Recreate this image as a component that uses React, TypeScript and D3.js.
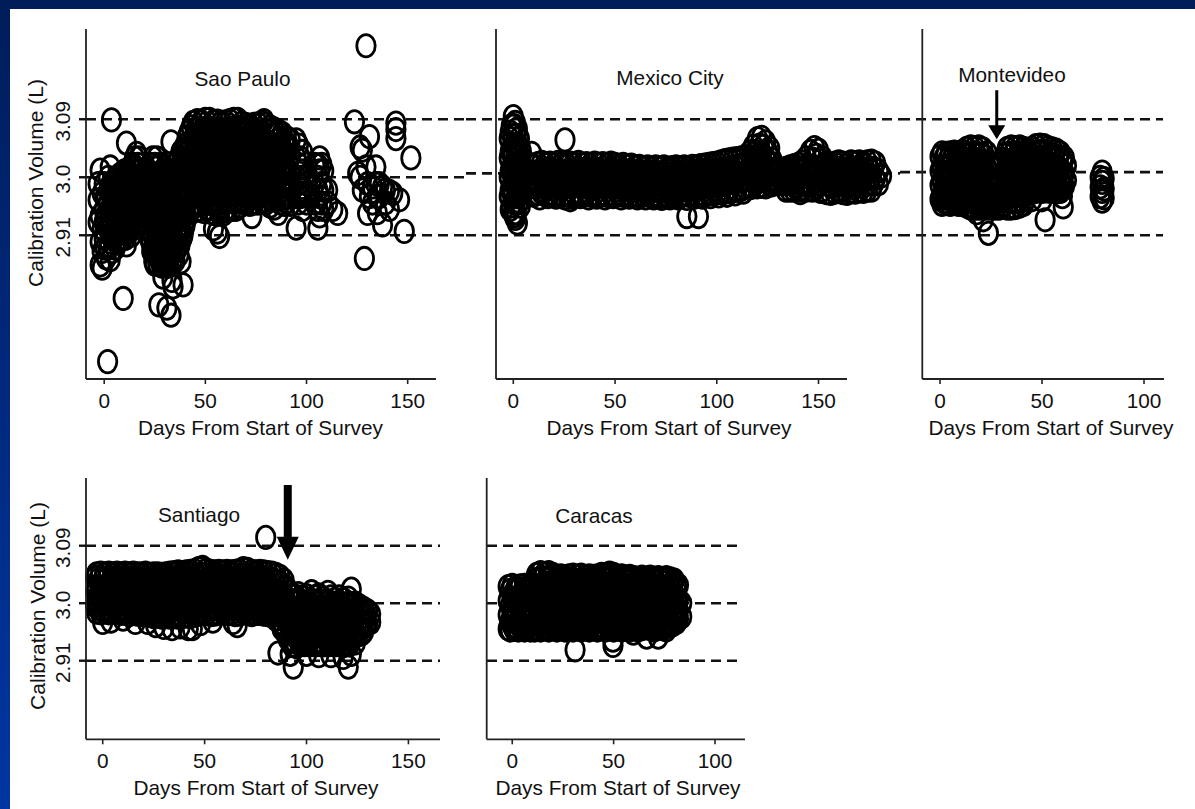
import React from 'react';
import * as d3 from 'd3';

type Row = number[]; // [day, value, value, ...]

// ---------- data (day, calibration volumes in L) ----------
const saoPaulo: Row[] = [
  [-3, 2.93, 2.965, 2.99],
  [-2, 3.011, 2.94, 2.9, 2.864],
  [-1, 2.975, 2.92, 2.885, 2.859],
  [0, 2.99, 2.95, 2.93, 2.905],
  [0.5, 2.97, 2.94, 2.915, 2.89],
  [1, 2.97, 2.935, 2.875],
  [1.7, 2.714],
  [2, 3.0, 2.96, 2.92, 2.89],
  [2.5, 2.985, 2.95, 2.935, 2.9],
  [3, 3.016, 2.975, 2.945, 2.91, 2.872],
  [3.6, 3.089],
  [4, 2.985, 2.955, 2.925, 2.885],
  [4.5, 2.975, 2.945, 2.915],
  [5, 2.995, 2.97, 2.94, 2.905],
  [5.5, 2.985, 2.955, 2.925, 2.89],
  [6, 3.0, 2.96, 2.93, 2.9],
  [6.5, 2.975, 2.945, 2.915],
  [7, 2.985, 2.955, 2.925],
  [7.5, 2.995, 2.965, 2.935, 2.905],
  [8, 3.005, 2.975, 2.945, 2.915],
  [8.5, 2.985, 2.955, 2.925],
  [9, 2.995, 2.965, 2.935, 2.905],
  [9.4, 2.812],
  [10, 3.01, 2.98, 2.95, 2.92],
  [10.5, 2.995, 2.965, 2.935, 2.905],
  [11, 3.053, 2.99, 2.96, 2.93, 2.895],
  [11.5, 3.01, 2.98, 2.95, 2.92],
  [12, 3.0, 2.975, 2.945, 2.915],
  [12.5, 2.99, 2.96, 2.93],
  [13, 3.015, 2.985, 2.955, 2.925],
  [13.5, 3.0, 2.97, 2.94, 2.91],
  [14, 3.02, 2.995, 2.965, 2.935],
  [14.5, 3.01, 2.98, 2.95, 2.92],
  [15, 3.03, 3.0, 2.97, 2.94],
  [15.5, 3.015, 2.985, 2.955],
  [16, 3.037, 3.01, 2.98, 2.95],
  [16.5, 3.02, 2.99, 2.96, 2.93],
  [17, 3.03, 3.0, 2.97, 2.945],
  [17.5, 3.0, 2.97, 2.94],
  [18, 3.01, 2.98, 2.955, 2.93],
  [19, 2.995, 2.965],
  [21, 2.99, 2.96, 2.93],
  [22, 3.01, 2.98, 2.95, 2.92],
  [22.5, 2.995, 2.965, 2.935, 2.905],
  [23, 3.02, 2.99, 2.96, 2.93, 2.9],
  [23.5, 3.005, 2.975, 2.945, 2.915, 2.885],
  [24, 3.03, 3.0, 2.97, 2.94, 2.91, 2.885],
  [24.5, 3.015, 2.985, 2.955, 2.925, 2.895, 2.87],
  [25, 3.02, 2.99, 2.96, 2.93, 2.9, 2.865],
  [25.5, 3.0, 2.97, 2.94, 2.91, 2.88],
  [26, 3.03, 3.0, 2.97, 2.94, 2.91, 2.88],
  [26.5, 3.015, 2.985, 2.955, 2.925, 2.895, 2.865],
  [27, 3.005, 2.975, 2.945, 2.915, 2.885, 2.802],
  [27.5, 2.99, 2.96, 2.93, 2.9, 2.87],
  [28, 3.02, 2.99, 2.96, 2.93, 2.9, 2.87],
  [28.5, 3.005, 2.975, 2.945, 2.915, 2.885, 2.862],
  [29, 3.0, 2.97, 2.94, 2.91, 2.88, 2.845],
  [29.5, 2.985, 2.955, 2.925, 2.895, 2.868],
  [30, 3.015, 2.985, 2.955, 2.925, 2.895, 2.865],
  [30.5, 3.0, 2.97, 2.94, 2.91, 2.88],
  [31, 2.995, 2.965, 2.935, 2.905, 2.875, 2.797],
  [31.5, 3.01, 2.98, 2.95, 2.92, 2.89, 2.862],
  [32, 3.02, 2.99, 2.96, 2.93, 2.9, 2.87],
  [32.5, 3.005, 2.975, 2.945, 2.915, 2.885],
  [33, 3.055, 3.0, 2.97, 2.94, 2.91, 2.88, 2.786],
  [33.5, 2.985, 2.955, 2.925, 2.895, 2.866, 2.84],
  [34, 3.01, 2.98, 2.95, 2.92, 2.89, 2.83],
  [34.5, 2.995, 2.965, 2.935, 2.905, 2.875],
  [35, 3.02, 2.99, 2.96, 2.93, 2.9, 2.87],
  [35.5, 3.005, 2.975, 2.945, 2.915, 2.885],
  [36, 3.01, 2.98, 2.95, 2.92, 2.89],
  [36.5, 3.025, 2.995, 2.965, 2.935, 2.905],
  [37, 3.03, 3.0, 2.97, 2.94, 2.91, 2.88],
  [37.5, 3.015, 2.985, 2.955, 2.925, 2.895],
  [38, 3.04, 3.01, 2.98, 2.95, 2.92, 2.869],
  [38.5, 3.025, 2.995, 2.965, 2.935, 2.905],
  [39, 3.03, 3.0, 2.97, 2.94, 2.91, 2.833],
  [39.5, 3.04, 3.01, 2.98, 2.95, 2.92],
  [40, 3.05, 3.025, 3.0, 2.975, 2.95, 2.925],
  [41, 3.062, 3.037, 3.012, 2.987, 2.962, 2.937],
  [42, 3.07, 3.045, 3.02, 2.995, 2.97, 2.945],
  [43, 3.078, 3.053, 3.028, 3.003, 2.978, 2.953],
  [44, 3.085, 3.06, 3.035, 3.01, 2.985, 2.96],
  [45, 3.073, 3.048, 3.023, 2.998, 2.973, 2.948],
  [46, 3.088, 3.062, 3.037, 3.012, 2.987, 2.96],
  [47, 3.076, 3.05, 3.025, 3.0, 2.975, 2.95],
  [48, 3.086, 3.061, 3.036, 3.011, 2.986, 2.958],
  [49, 3.074, 3.049, 3.024, 2.999, 2.974, 2.947],
  [50, 3.09, 3.063, 3.038, 3.013, 2.988, 2.962],
  [51, 3.077, 3.052, 3.027, 3.002, 2.977, 2.95],
  [52, 3.09, 3.064, 3.039, 3.014, 2.989, 2.96],
  [53, 3.075, 3.05, 3.025, 3.0, 2.975, 2.945],
  [54, 3.086, 3.061, 3.036, 3.011, 2.986, 2.958, 2.92],
  [55, 3.073, 3.048, 3.023, 2.998, 2.973, 2.943],
  [56, 3.087, 3.062, 3.037, 3.012, 2.987, 2.958, 2.915],
  [57, 3.074, 3.049, 3.024, 2.999, 2.974, 2.945, 2.908],
  [58, 3.085, 3.06, 3.035, 3.01, 2.985, 2.955],
  [59, 3.072, 3.047, 3.022, 2.997, 2.972, 2.943],
  [60, 3.086, 3.061, 3.036, 3.011, 2.986, 2.96],
  [61, 3.074, 3.049, 3.024, 2.999, 2.974, 2.948],
  [62, 3.088, 3.063, 3.038, 3.013, 2.988, 2.962],
  [63, 3.076, 3.051, 3.026, 3.001, 2.976, 2.95],
  [64, 3.09, 3.064, 3.039, 3.014, 2.989, 2.962],
  [65, 3.077, 3.052, 3.027, 3.002, 2.977, 2.95],
  [66, 3.09, 3.063, 3.038, 3.013, 2.988, 2.962],
  [67, 3.075, 3.05, 3.025, 3.0, 2.975, 2.955],
  [68, 3.084, 3.059, 3.034, 3.009, 2.984, 2.962],
  [69, 3.072, 3.047, 3.022, 2.997, 2.972],
  [70, 3.082, 3.057, 3.032, 3.007, 2.982, 2.96],
  [71, 3.07, 3.045, 3.02, 2.995, 2.97],
  [72, 3.08, 3.055, 3.03, 3.005, 2.98, 2.958],
  [73, 3.068, 3.043, 3.018, 2.993, 2.968, 2.939],
  [74, 3.082, 3.057, 3.032, 3.007, 2.982, 2.96],
  [75, 3.07, 3.045, 3.02, 2.995, 2.97],
  [76, 3.083, 3.058, 3.033, 3.008, 2.983, 2.96],
  [77, 3.071, 3.046, 3.021, 2.996, 2.971],
  [78, 3.085, 3.06, 3.035, 3.01, 2.985, 2.962],
  [79, 3.088, 3.048, 3.023, 2.998, 2.973],
  [80, 3.082, 3.057, 3.032, 3.007, 2.982, 2.96],
  [81, 3.07, 3.045, 3.02, 2.995, 2.97],
  [82, 3.078, 3.053, 3.028, 3.003, 2.978, 2.955],
  [83, 3.066, 3.041, 3.016, 2.991, 2.966],
  [84, 3.075, 3.05, 3.025, 3.0, 2.975, 2.952],
  [85, 3.068, 3.043, 3.018, 2.993, 2.968],
  [86, 3.072, 3.047, 3.022, 2.997, 2.972, 2.944],
  [87, 3.06, 3.035, 3.01, 2.985, 2.96],
  [88, 3.068, 3.043, 3.018, 2.993, 2.968],
  [89, 3.055, 3.03, 3.005, 2.98, 2.958],
  [90, 3.062, 3.037, 3.012, 2.987, 2.962],
  [91, 3.05, 3.025, 3.0, 2.975],
  [92, 3.058, 3.033, 3.008, 2.983, 2.958],
  [94.9, 3.058, 3.03, 3.0, 2.97, 2.921],
  [96, 3.05, 3.02, 2.99, 2.96],
  [97, 3.03, 3.0, 2.97],
  [98, 3.04, 3.01, 2.98, 2.95],
  [100, 3.02, 2.99, 2.96],
  [101, 3.0, 2.97],
  [104, 3.02, 2.99, 2.96],
  [105.6, 3.019, 3.0, 2.98, 2.95, 2.921],
  [106.5, 3.03, 3.01, 2.97, 2.94],
  [107.5, 3.02, 2.99, 2.96],
  [108.5, 3.01, 2.98, 2.95],
  [110.5, 2.98, 2.96],
  [113, 2.95],
  [115.4, 2.944],
  [123.7, 3.086],
  [125.3, 3.006],
  [126.5, 3.047, 3.0],
  [127.6, 3.042, 2.98],
  [128.6, 2.874],
  [129.4, 3.204, 3.016],
  [130.2, 2.944, 2.99],
  [131.1, 3.063, 2.97],
  [132.6, 2.985, 2.96],
  [134.3, 3.016, 2.99],
  [135, 2.945, 2.97],
  [136, 2.97, 2.99],
  [137.6, 2.985, 2.926],
  [139, 2.96, 2.98],
  [141, 2.978, 2.95],
  [142.6, 2.975],
  [144.2, 3.084, 3.074, 3.06],
  [146, 2.965],
  [148.3, 2.916],
  [151.6, 3.03],
];

const mexicoCity: Row[] = [
  [-2, 3.06, 3.03, 3.0, 2.97],
  [-1.5, 3.07, 3.04, 3.01, 2.98, 2.95],
  [-1, 3.08, 3.045, 3.015, 2.985, 2.955],
  [0, 3.094, 3.065, 3.035, 3.005, 2.975, 2.944],
  [0.5, 3.08, 3.05, 3.02, 2.99, 2.96, 2.94],
  [1, 3.085, 3.05, 3.02, 2.99, 2.96, 2.936],
  [1.5, 3.065, 3.035, 3.0, 2.97, 2.945],
  [2, 3.075, 3.04, 3.008, 2.978, 2.929],
  [2.5, 3.05, 3.02, 2.99, 2.96],
  [3, 3.06, 3.025, 2.995, 2.962],
  [3.5, 3.045, 3.015, 2.985, 2.955],
  [4, 3.04, 3.005, 2.975],
  [6, 3.012, 2.99],
  [8, 3.02, 2.985],
  [9, 3.037],
  [10, 3.018, 2.994, 2.972],
  [11, 3.008, 2.985],
  [12, 3.021, 2.997, 2.975],
  [13, 3.01, 2.986, 2.968],
  [14, 3.023, 2.999, 2.976],
  [15, 3.011, 2.987],
  [16, 3.02, 2.996, 2.973],
  [17, 3.009, 2.984, 2.97],
  [18, 3.022, 2.998, 2.975],
  [19, 3.012, 2.988],
  [20, 3.019, 2.995, 2.972],
  [21, 3.008, 2.984, 2.969],
  [22, 3.023, 2.999, 2.976],
  [23, 3.01, 2.987],
  [24, 3.021, 2.996, 2.973],
  [25.4, 3.058, 3.009, 2.985, 2.968],
  [26, 3.02, 2.997, 2.975],
  [27, 3.011, 2.986],
  [28, 3.022, 2.998, 2.972, 2.965],
  [29, 3.009, 2.985, 2.969],
  [30, 3.019, 2.995, 2.975],
  [31, 3.012, 2.988],
  [32, 3.023, 2.998, 2.974],
  [33, 3.01, 2.986, 2.97],
  [34, 3.02, 2.996, 2.973],
  [35, 3.008, 2.985],
  [36, 3.021, 2.997, 2.976],
  [37, 3.011, 2.987, 2.968],
  [38, 3.019, 2.994, 2.972],
  [39, 3.009, 2.985],
  [40, 3.022, 2.998, 2.975],
  [41, 3.012, 2.988, 2.969],
  [42, 3.02, 2.996, 2.973],
  [43, 3.01, 2.986],
  [44, 3.021, 2.997, 2.975],
  [45, 3.009, 2.985, 2.968],
  [46, 3.019, 2.995, 2.972],
  [47, 3.011, 2.987],
  [48, 3.022, 2.998, 2.974],
  [49, 3.008, 2.984, 2.97],
  [50, 3.02, 2.996, 2.973],
  [51, 3.01, 2.986],
  [52, 3.018, 2.994, 2.975],
  [53, 3.009, 2.985, 2.968],
  [54, 3.02, 2.996, 2.972],
  [55, 3.008, 2.984],
  [56, 3.017, 2.993, 2.974],
  [57, 3.007, 2.983, 2.969],
  [58, 3.019, 2.995, 2.972],
  [59, 3.009, 2.985],
  [60, 3.016, 2.992, 2.973],
  [61, 3.006, 2.982, 2.968],
  [62, 3.017, 2.993, 2.971],
  [63, 3.007, 2.984],
  [64, 3.015, 2.991, 2.972],
  [65, 3.005, 2.981, 2.968],
  [66, 3.016, 2.992, 2.974],
  [67, 3.006, 2.983],
  [68, 3.014, 2.99, 2.971],
  [69, 3.004, 2.98, 2.968],
  [70, 3.016, 2.992, 2.973],
  [71, 3.006, 2.982],
  [72, 3.015, 2.991, 2.97],
  [73, 3.005, 2.981, 2.967],
  [74, 3.016, 2.992, 2.973],
  [75, 3.006, 2.983],
  [76, 3.014, 2.99, 2.971],
  [77, 3.004, 2.98, 2.968],
  [78, 3.015, 2.991, 2.972],
  [79, 3.006, 2.982],
  [80, 3.016, 2.992, 2.974],
  [81, 3.005, 2.981, 2.968],
  [82, 3.015, 2.99, 2.971],
  [83, 3.006, 2.983],
  [84, 3.016, 2.992, 2.973],
  [85.3, 3.005, 2.981, 2.967, 2.939],
  [86, 3.015, 2.991, 2.972],
  [87, 3.006, 2.982],
  [88, 3.017, 2.993, 2.974],
  [89, 3.007, 2.983, 2.969],
  [90, 3.016, 2.992, 2.972],
  [91, 3.008, 2.984, 2.939],
  [92, 3.018, 2.994, 2.974],
  [93, 3.008, 2.984, 2.969],
  [94, 3.019, 2.995, 2.973],
  [95, 3.009, 2.985],
  [96, 3.02, 2.996, 2.975],
  [97, 3.01, 2.986, 2.97],
  [98, 3.021, 2.997, 2.974],
  [99, 3.011, 2.987],
  [100, 3.022, 2.998, 2.976],
  [101, 3.012, 2.988, 2.971],
  [102, 3.024, 3.0, 2.976],
  [103, 3.013, 2.989],
  [104, 3.026, 3.001, 2.977],
  [105, 3.014, 2.99, 2.972],
  [106, 3.027, 3.003, 2.978],
  [107, 3.016, 2.992],
  [108, 3.028, 3.004, 2.979],
  [109, 3.017, 2.993, 2.974],
  [110, 3.029, 3.005, 2.98],
  [111, 3.018, 2.994],
  [112, 3.03, 3.006, 2.981],
  [113, 3.02, 2.996, 2.977],
  [114, 3.032, 3.008, 2.984],
  [115, 3.024, 2.998],
  [116, 3.038, 3.012, 2.988],
  [117, 3.03, 3.004, 2.984],
  [118, 3.048, 3.022, 2.996],
  [119, 3.04, 3.012, 2.99],
  [120, 3.06, 3.034, 3.008, 2.985],
  [121, 3.05, 3.024, 2.998],
  [122, 3.062, 3.036, 3.01, 2.986],
  [123, 3.048, 3.022, 2.996],
  [124, 3.055, 3.03, 3.004, 2.985],
  [125, 3.04, 3.014, 2.992],
  [126, 3.045, 3.02, 2.996],
  [127, 3.028, 3.004, 2.988],
  [128, 3.02, 2.998],
  [129, 3.012, 2.992],
  [130, 3.014, 2.994],
  [131, 3.008, 2.99],
  [132, 3.012, 2.994],
  [133, 3.006, 2.99],
  [134, 3.014, 2.996, 2.98],
  [135, 3.008, 2.99],
  [136, 3.016, 2.996, 2.98],
  [137, 3.01, 2.99],
  [138, 3.018, 2.998, 2.98],
  [139, 3.012, 2.992],
  [140, 3.02, 3.0, 2.98],
  [141, 3.012, 2.99, 2.976],
  [142, 3.024, 3.0, 2.98],
  [143, 3.014, 2.992],
  [144, 3.03, 3.004, 2.98],
  [145, 3.018, 2.994],
  [146, 3.04, 3.012, 2.988],
  [147, 3.028, 3.002, 2.98],
  [148, 3.046, 3.016, 2.992],
  [149, 3.034, 3.008, 2.984],
  [150, 3.042, 3.014, 2.99],
  [151, 3.026, 3.0, 2.978],
  [152, 3.03, 3.004, 2.98],
  [153, 3.018, 2.994],
  [154, 3.022, 2.998, 2.976],
  [155, 3.012, 2.988],
  [156, 3.02, 2.996, 2.975],
  [157, 3.01, 2.986],
  [158, 3.022, 2.998, 2.977],
  [159, 3.012, 2.988],
  [160, 3.024, 3.0, 2.978],
  [161, 3.014, 2.99],
  [162, 3.022, 2.998, 2.976],
  [163, 3.012, 2.988],
  [164, 3.02, 2.996, 2.975],
  [165, 3.01, 2.986],
  [166, 3.024, 3.0, 2.978],
  [167, 3.014, 2.99],
  [168, 3.022, 2.998, 2.977],
  [169, 3.012, 2.988],
  [170, 3.024, 3.0, 2.979],
  [171, 3.014, 2.99],
  [172, 3.022, 2.998, 2.978],
  [173, 3.012, 2.988],
  [174, 3.024, 3.0, 2.98],
  [175, 3.014, 2.99],
  [176, 3.025, 3.0, 2.98],
  [177, 3.014, 2.99],
  [178, 3.022, 2.998],
  [179.5, 3.01, 2.99],
  [181, 3.002],
];

const montevideo: Row[] = [
  [0, 3.032, 3.01, 2.988, 2.966],
  [1, 3.038, 3.016, 2.994, 2.972, 2.958],
  [2, 3.03, 3.006, 2.984, 2.962],
  [3, 3.037, 3.014, 2.992, 2.97, 2.96],
  [4, 3.028, 3.004, 2.981, 2.961],
  [5, 3.038, 3.016, 2.993, 2.971, 2.958],
  [6, 3.029, 3.005, 2.982, 2.963],
  [7, 3.039, 3.015, 2.991, 2.97, 2.96],
  [8, 3.03, 3.006, 2.983, 2.962],
  [9, 3.038, 3.016, 2.994, 2.972, 2.958],
  [10, 3.031, 3.007, 2.984, 2.962],
  [11, 3.04, 3.017, 2.994, 2.971, 2.958],
  [12, 3.034, 3.009, 2.985, 2.962],
  [13, 3.045, 3.021, 2.997, 2.974, 2.955],
  [14, 3.036, 3.011, 2.987, 2.963],
  [15, 3.047, 3.023, 2.998, 2.974, 2.952],
  [16, 3.037, 3.012, 2.987, 2.963],
  [17, 3.046, 3.022, 2.997, 2.973, 2.952],
  [18, 3.035, 3.01, 2.986, 2.962, 2.945],
  [19, 3.047, 3.022, 2.997, 2.972, 2.952],
  [20, 3.036, 3.011, 2.986, 2.962],
  [21, 3.044, 3.02, 2.995, 2.97, 2.952],
  [21.2, 2.934],
  [22, 3.032, 3.008, 2.984, 2.96],
  [23, 3.038, 3.013, 2.99, 2.966, 2.952],
  [23.7, 2.913],
  [24, 3.022, 2.999, 2.976, 2.955],
  [25, 3.02, 2.996, 2.972, 2.952],
  [26, 3.016, 2.992, 2.968, 2.955],
  [27, 3.02, 2.996, 2.972, 2.952],
  [28, 3.014, 2.99, 2.966, 2.955],
  [29, 3.019, 2.995, 2.971, 2.952],
  [30, 3.022, 2.998, 2.974, 2.955],
  [31, 3.028, 3.004, 2.98, 2.956],
  [32, 3.036, 3.012, 2.988, 2.964],
  [33, 3.045, 3.02, 2.996, 2.972, 2.952],
  [34, 3.037, 3.012, 2.987, 2.963],
  [35, 3.047, 3.022, 2.997, 2.973, 2.952],
  [36, 3.036, 3.011, 2.986, 2.962],
  [37, 3.046, 3.021, 2.996, 2.972, 2.953],
  [38, 3.035, 3.01, 2.985, 2.962],
  [39, 3.047, 3.022, 2.997, 2.972, 2.955],
  [40, 3.036, 3.012, 2.987, 2.964],
  [41, 3.045, 3.02, 2.995, 2.971, 2.958],
  [42, 3.034, 3.01, 2.986, 2.966],
  [43, 3.043, 3.019, 2.995, 2.975],
  [44, 3.036, 3.012, 2.988, 2.978],
  [45, 3.045, 3.021, 2.997, 2.978, 2.965],
  [46, 3.038, 3.014, 2.99, 2.98],
  [47, 3.049, 3.025, 3.0, 2.978],
  [48, 3.04, 3.016, 2.992, 2.98],
  [49, 3.05, 3.026, 3.002, 2.98],
  [50, 3.041, 3.017, 2.993, 2.978, 2.965],
  [51, 3.049, 3.024, 3.0, 2.98],
  [51.5, 2.934],
  [52, 3.039, 3.015, 2.991, 2.979],
  [53, 3.046, 3.022, 2.998, 2.98],
  [54, 3.036, 3.012, 2.989, 2.978],
  [55, 3.044, 3.02, 2.996, 2.98],
  [56, 3.034, 3.01, 2.987, 2.978],
  [57, 3.042, 3.017, 2.993, 2.98],
  [58, 3.032, 3.008, 2.985, 2.978],
  [59, 3.038, 3.013, 2.99, 2.978],
  [60, 3.028, 3.005, 2.984, 2.97],
  [60.4, 2.954],
  [61, 3.03, 3.006, 2.986],
  [62, 3.018, 2.995],
  [78.5, 3.0, 2.985, 2.97],
  [79.5, 3.008, 2.992, 2.978, 2.963],
  [80.5, 2.998, 2.982, 2.968],
];

const santiago: Row[] = [
  [-3.5, 3.04, 3.018, 2.996],
  [-3, 3.046, 3.024, 3.002, 2.986],
  [-2, 3.037, 3.013, 2.992],
  [-1, 3.047, 3.025, 3.003, 2.985],
  [0, 3.036, 3.012, 2.99, 2.97],
  [1, 3.046, 3.023, 3.001, 2.986],
  [2, 3.038, 3.014, 2.993],
  [3, 3.047, 3.025, 3.003, 2.985],
  [4, 3.036, 3.012, 2.99, 2.972],
  [5, 3.046, 3.024, 3.002, 2.986],
  [6, 3.038, 3.015, 2.993],
  [7, 3.047, 3.025, 3.003, 2.985],
  [8, 3.037, 3.013, 2.991],
  [9, 3.046, 3.024, 3.001, 2.984],
  [10, 3.038, 3.014, 2.992, 2.975],
  [11, 3.047, 3.025, 3.003, 2.985],
  [12, 3.037, 3.013, 2.99],
  [13, 3.046, 3.023, 3.0, 2.982],
  [14, 3.038, 3.014, 2.992],
  [15, 3.047, 3.024, 3.002, 2.984],
  [16, 3.036, 3.012, 2.99, 2.97],
  [17, 3.046, 3.023, 3.0, 2.983],
  [18, 3.037, 3.013, 2.991],
  [19, 3.046, 3.023, 3.0, 2.982],
  [20, 3.036, 3.012, 2.989],
  [21, 3.047, 3.024, 3.001, 2.983],
  [22, 3.037, 3.013, 2.99, 2.97],
  [23, 3.045, 3.022, 2.999, 2.981],
  [24, 3.036, 3.012, 2.989],
  [25, 3.046, 3.022, 2.998, 2.979],
  [26, 3.035, 3.011, 2.987, 2.965],
  [27, 3.046, 3.022, 2.998, 2.98],
  [28, 3.037, 3.013, 2.989],
  [29, 3.045, 3.021, 2.997, 2.978],
  [30, 3.036, 3.012, 2.988, 2.962],
  [31, 3.046, 3.022, 2.998, 2.979],
  [32, 3.037, 3.013, 2.989],
  [33, 3.047, 3.023, 2.999, 2.978],
  [34, 3.038, 3.014, 2.99, 2.96],
  [35, 3.048, 3.024, 3.0, 2.979],
  [36, 3.039, 3.015, 2.991],
  [37, 3.049, 3.025, 3.001, 2.978],
  [38, 3.038, 3.014, 2.99, 2.963],
  [39, 3.048, 3.024, 3.0, 2.979],
  [40, 3.04, 3.016, 2.992],
  [41, 3.049, 3.025, 3.001, 2.98],
  [42, 3.039, 3.015, 2.991, 2.96],
  [43, 3.05, 3.026, 3.002, 2.979],
  [44, 3.04, 3.016, 2.992, 2.96],
  [45, 3.051, 3.027, 3.003, 2.981],
  [46, 3.042, 3.018, 2.994],
  [47, 3.054, 3.03, 3.006, 2.983],
  [48, 3.045, 3.02, 2.996, 2.968],
  [49, 3.056, 3.031, 3.007, 2.985],
  [50, 3.044, 3.02, 2.996],
  [51, 3.052, 3.028, 3.004, 2.984],
  [52, 3.04, 3.016, 2.993],
  [53, 3.05, 3.026, 3.002, 2.982],
  [54, 3.041, 3.017, 2.993, 2.972],
  [55, 3.049, 3.025, 3.001, 2.983],
  [56, 3.039, 3.015, 2.992],
  [57, 3.05, 3.026, 3.002, 2.984],
  [58, 3.04, 3.016, 2.993],
  [59, 3.049, 3.025, 3.002, 2.985],
  [60, 3.039, 3.015, 2.993],
  [61, 3.05, 3.026, 3.003, 2.984],
  [62, 3.04, 3.016, 2.994],
  [63, 3.049, 3.025, 3.002, 2.984],
  [64, 3.038, 3.014, 2.991, 2.97],
  [65, 3.05, 3.026, 3.002, 2.982],
  [66, 3.04, 3.016, 2.992, 2.965],
  [67, 3.051, 3.027, 3.003, 2.983],
  [68, 3.042, 3.018, 2.994],
  [69, 3.054, 3.03, 3.006, 2.985],
  [70, 3.045, 3.021, 2.997],
  [71, 3.053, 3.029, 3.005, 2.984],
  [72, 3.041, 3.017, 2.993],
  [73, 3.05, 3.026, 3.002, 2.982],
  [74, 3.04, 3.016, 2.992],
  [75, 3.049, 3.025, 3.001, 2.984],
  [76, 3.039, 3.015, 2.992],
  [77, 3.05, 3.026, 3.002, 2.984],
  [78, 3.04, 3.016, 2.993],
  [79, 3.049, 3.025, 3.001, 2.983],
  [80, 3.103, 3.039, 3.015, 2.991],
  [81, 3.048, 3.024, 3.0, 2.982],
  [82, 3.038, 3.014, 2.99],
  [83, 3.047, 3.023, 2.999, 2.98],
  [84, 3.036, 3.012, 2.988],
  [85, 3.045, 3.02, 2.996, 2.975],
  [86, 3.034, 3.01, 2.985, 2.922],
  [87, 3.042, 3.017, 2.992, 2.97],
  [88, 3.03, 3.005, 2.98, 2.96],
  [89, 3.036, 3.01, 2.985, 2.962],
  [90, 3.025, 3.0, 2.975, 2.952],
  [91, 3.018, 2.993, 2.968, 2.944],
  [92, 3.012, 2.988, 2.963, 2.94, 2.92],
  [93, 3.004, 2.98, 2.956, 2.934],
  [93.5, 2.9],
  [94, 3.012, 2.988, 2.964, 2.94],
  [95, 3.003, 2.978, 2.954, 2.932],
  [96, 3.015, 2.99, 2.966, 2.942],
  [97, 3.004, 2.98, 2.955, 2.935],
  [98, 3.01, 2.986, 2.962, 2.938],
  [99, 3.0, 2.976, 2.952, 2.935],
  [100, 3.012, 2.988, 2.964, 2.94, 2.92],
  [101, 3.002, 2.978, 2.954, 2.935],
  [102.5, 3.018, 2.994, 2.97, 2.945],
  [103, 3.004, 2.98, 2.956, 2.935],
  [104, 3.01, 2.986, 2.962, 2.938],
  [105, 3.0, 2.976, 2.952, 2.935],
  [106, 3.013, 2.989, 2.965, 2.941, 2.918],
  [107, 3.003, 2.979, 2.955, 2.935],
  [108, 3.008, 2.984, 2.96, 2.938],
  [109, 3.0, 2.976, 2.952, 2.935],
  [110.5, 3.017, 2.993, 2.969, 2.945],
  [111, 3.002, 2.978, 2.954, 2.935],
  [112, 3.01, 2.986, 2.962, 2.938, 2.918],
  [113, 3.0, 2.976, 2.952, 2.935],
  [114, 3.006, 2.982, 2.958, 2.938],
  [115, 2.998, 2.974, 2.95, 2.935],
  [116, 3.01, 2.986, 2.962, 2.938],
  [117, 3.0, 2.976, 2.952, 2.935],
  [118, 3.006, 2.982, 2.958, 2.935, 2.915],
  [119, 2.998, 2.974, 2.95, 2.935],
  [120.5, 3.008, 2.984, 2.96, 2.938, 2.9],
  [121, 3.0, 2.976, 2.952, 2.935],
  [122, 3.022, 2.996, 2.97, 2.945, 2.92],
  [123, 2.996, 2.972, 2.95],
  [124, 3.0, 2.978, 2.955, 2.938],
  [125, 2.992, 2.97, 2.95],
  [126, 2.996, 2.975, 2.955],
  [127, 2.988, 2.968, 2.952],
  [128, 2.992, 2.972, 2.955],
  [129, 2.985, 2.965],
  [130, 2.988, 2.968],
  [131.5, 2.983, 2.97],
];

const caracas: Row[] = [
  [-2, 3.026, 3.004, 2.982, 2.96],
  [-1, 3.02, 2.996, 2.972, 2.958],
  [0, 3.028, 3.008, 2.986, 2.965],
  [1, 3.018, 2.994, 2.975, 2.959],
  [2, 3.025, 3.002, 2.98, 2.962],
  [3, 3.021, 2.998, 2.97, 2.958],
  [4, 3.027, 3.006, 2.984, 2.963],
  [5, 3.016, 2.992, 2.976, 2.96],
  [6, 3.028, 3.004, 2.981, 2.958],
  [7, 3.022, 2.997, 2.971, 2.961],
  [8, 3.026, 3.009, 2.986, 2.964],
  [9, 3.019, 2.993, 2.974, 2.958],
  [10, 3.03, 3.005, 2.982, 2.96],
  [11, 3.036, 3.012, 2.99, 2.968, 2.958],
  [12, 3.045, 3.02, 2.997, 2.974, 2.96],
  [13, 3.038, 3.013, 2.988, 2.966],
  [14, 3.048, 3.024, 3.001, 2.978, 2.958],
  [15, 3.04, 3.016, 2.992, 2.969],
  [16, 3.046, 3.021, 2.996, 2.973, 2.96],
  [17, 3.037, 3.01, 2.985, 2.962],
  [18, 3.048, 3.025, 3.0, 2.976, 2.958],
  [19, 3.041, 3.015, 2.991, 2.967],
  [20, 3.045, 3.02, 2.995, 2.972, 2.96],
  [21, 3.036, 3.011, 2.987, 2.963],
  [22, 3.042, 3.018, 2.994, 2.97, 2.958],
  [23, 3.035, 3.009, 2.984, 2.962],
  [24, 3.043, 3.019, 2.996, 2.973, 2.96],
  [25, 3.037, 3.012, 2.988, 2.965],
  [26, 3.041, 3.016, 2.992, 2.968, 2.958],
  [27, 3.034, 3.01, 2.986, 2.962],
  [28, 3.043, 3.02, 2.997, 2.974, 2.96],
  [29, 3.036, 3.011, 2.985, 2.963],
  [30, 3.044, 3.019, 2.994, 2.97, 2.958],
  [31, 3.035, 3.012, 2.988, 2.964, 2.927],
  [32, 3.042, 3.017, 2.993, 2.97, 2.96],
  [33, 3.036, 3.01, 2.986, 2.962],
  [34, 3.044, 3.021, 2.997, 2.973, 2.958],
  [35, 3.037, 3.013, 2.989, 2.965],
  [36, 3.041, 3.016, 2.991, 2.968, 2.96],
  [37, 3.034, 3.009, 2.985, 2.962],
  [38, 3.043, 3.019, 2.995, 2.971, 2.958],
  [39, 3.036, 3.012, 2.987, 2.964],
  [40, 3.042, 3.017, 2.993, 2.969, 2.96],
  [41, 3.035, 3.01, 2.986, 2.962],
  [42, 3.043, 3.019, 2.996, 2.972, 2.958],
  [43, 3.037, 3.013, 2.988, 2.965],
  [44, 3.045, 3.02, 2.995, 2.971, 2.96],
  [45, 3.038, 3.012, 2.987, 2.963],
  [46, 3.044, 3.018, 2.994, 2.97, 2.958],
  [47, 3.039, 3.014, 2.989, 2.966],
  [48, 3.047, 3.022, 2.997, 2.973, 2.96],
  [49, 3.04, 3.015, 2.99, 2.965],
  [49.7, 2.942, 2.934],
  [50, 3.045, 3.02, 2.996, 2.972, 2.958],
  [51, 3.037, 3.012, 2.988, 2.964],
  [52, 3.042, 3.017, 2.993, 2.969, 2.96],
  [53, 3.035, 3.01, 2.986, 2.962],
  [54, 3.043, 3.019, 2.995, 2.971, 2.958],
  [55, 3.036, 3.011, 2.987, 2.964],
  [56, 3.041, 3.016, 2.992, 2.968, 2.96],
  [57, 3.034, 3.009, 2.985, 2.962],
  [58, 3.042, 3.018, 2.994, 2.97, 2.958],
  [59, 3.036, 3.012, 2.988, 2.965],
  [59.7, 2.953],
  [60, 3.04, 3.016, 2.992, 2.968, 2.96],
  [61, 3.033, 3.008, 2.984, 2.962],
  [62, 3.039, 3.015, 2.991, 2.967, 2.958],
  [63, 3.034, 3.01, 2.986, 2.963],
  [64, 3.041, 3.017, 2.993, 2.969, 2.96],
  [65, 3.035, 3.011, 2.987, 2.964],
  [66.3, 3.039, 3.014, 2.99, 2.967, 2.947],
  [67, 3.033, 3.009, 2.985, 2.962],
  [68, 3.041, 3.017, 2.993, 2.969, 2.96],
  [69, 3.036, 3.011, 2.986, 2.963],
  [70, 3.039, 3.014, 2.99, 2.966, 2.958],
  [71, 3.034, 3.01, 2.985, 2.962],
  [72, 3.04, 3.016, 2.992, 2.968, 2.947],
  [73, 3.035, 3.011, 2.987, 2.963],
  [74, 3.038, 3.014, 2.99, 2.966, 2.96],
  [75, 3.033, 3.008, 2.984, 2.962],
  [76, 3.04, 3.016, 2.992, 2.969, 2.958],
  [77, 3.034, 3.01, 2.986, 2.964],
  [78, 3.038, 3.013, 2.99, 2.968],
  [79, 3.032, 3.008, 2.985, 2.966],
  [80, 3.036, 3.012, 2.99, 2.972],
  [81, 3.03, 3.006, 2.984, 2.97],
  [82, 3.028, 3.006, 2.988, 2.975],
  [83.6, 3.0, 2.979],
];

// tick and reference values
const xTicks150 = [0, 50, 100, 150];
const xTicks100 = [0, 50, 100];
const yTickValues = [2.91, 3.0, 3.09];
const yTickLabels = ['2.91', '3.0', '3.09'];
const refSaoPaulo = [3.09, 3.0, 2.91];
const refMexicoCity = [3.09, 3.006, 2.91];
const refMontevideo = [3.09, 3.008, 2.91];
const refSantiago = [3.09, 3.0, 2.91];
const refCaracas = [3.09, 3.0, 2.91];

// arrows: [day, from value, to value]
const arrowMontevideo = [27.8, 3.135, 3.059];
const arrowSantiago = [90.8, 3.185, 3.068];

// ---------- layout ----------
const W = 1195;
const H = 809;
const FONT = '"Liberation Sans", Arial, Helvetica, sans-serif';

const topY = d3.scaleLinear().domain([2.687, 3.23]).range([379, 29]);
const botY = d3.scaleLinear().domain([2.787, 3.196]).range([739.3, 478]);

interface PanelSpec {
  name: string;
  rows: Row[];
  xDomain: [number, number];
  xRange: [number, number];
  y: d3.ScaleLinear<number, number>;
  refs: number[];
  refSpan: [number, number];
  xTicks: number[];
  yLabels: boolean;
  title: [number, number];
  xTitleX: number;
  yTitle?: [number, number];
}

const panels: PanelSpec[] = [
  {
    name: 'Sao Paulo', rows: saoPaulo, xDomain: [-9, 164], xRange: [86, 436], y: topY,
    refs: refSaoPaulo, refSpan: [86, 466], xTicks: xTicks150, yLabels: true,
    title: [242.5, 86], xTitleX: 260.5, yTitle: [43, 183],
  },
  {
    name: 'Mexico City', rows: mexicoCity, xDomain: [-8.5, 164], xRange: [496, 847], y: topY,
    refs: refMexicoCity, refSpan: [466, 900], xTicks: xTicks150, yLabels: false,
    title: [670, 85], xTitleX: 669,
  },
  {
    name: 'Montevideo', rows: montevideo, xDomain: [-8.7, 109.8], xRange: [922.3, 1164], y: topY,
    refs: refMontevideo, refSpan: [900, 1163], xTicks: xTicks100, yLabels: false,
    title: [1012, 82], xTitleX: 1051,
  },
  {
    name: 'Santiago', rows: santiago, xDomain: [-8.2, 165.5], xRange: [86, 440], y: botY,
    refs: refSantiago, refSpan: [86, 440], xTicks: xTicks150, yLabels: true,
    title: [199, 522], xTitleX: 256, yTitle: [45, 606],
  },
  {
    name: 'Caracas', rows: caracas, xDomain: [-12.6, 114.8], xRange: [486.7, 745], y: botY,
    refs: refCaracas, refSpan: [487, 738], xTicks: xTicks100, yLabels: false,
    title: [594, 523], xTitleX: 618,
  },
];

function flatten(rows: Row[]): [number, number][] {
  const out: [number, number][] = [];
  rows.forEach((r) => {
    for (let i = 1; i < r.length; i++) out.push([r[0], r[i]]);
  });
  return out;
}

function Panel({ p }: { p: PanelSpec }) {
  const x = d3.scaleLinear().domain(p.xDomain).range(p.xRange);
  const y = p.y;
  const [y0, y1] = y.range() as [number, number]; // bottom, top
  const axisX = p.xRange[0];
  const pts = flatten(p.rows);
  const fs = 20.8;
  return (
    <g>
      {p.refs.map((v, i) => (
        <line key={'r' + i} x1={p.refSpan[0]} x2={p.refSpan[1]} y1={y(v)} y2={y(v)}
          stroke="#111" strokeWidth={2.6} strokeDasharray="10 6" />
      ))}
      {pts.map(([d, v], i) => (
        <ellipse key={i} cx={x(d)} cy={y(v)} rx={9.2} ry={11.2}
          fill="none" stroke="#000" strokeWidth={2.8} />
      ))}
      <line x1={axisX} x2={axisX} y1={y1} y2={y0} stroke="#222" strokeWidth={1.8} />
      <line x1={axisX} x2={p.xRange[1]} y1={y0} y2={y0} stroke="#222" strokeWidth={1.8} />
      {p.xTicks.map((t) => (
        <g key={'xt' + t}>
          <line x1={x(t)} x2={x(t)} y1={y0} y2={y0 + 5} stroke="#222" strokeWidth={1.6} />
          <text x={x(t)} y={y0 + 28.5} textAnchor="middle" fontSize={fs} fontFamily={FONT} fill="#111">{t}</text>
        </g>
      ))}
      <text x={p.xTitleX} y={y0 + 55.5} textAnchor="middle" fontSize={fs} fontFamily={FONT} fill="#111">
        Days From Start of Survey
      </text>
      {p.yLabels && yTickValues.map((v, i) => (
        <g key={'yt' + i}>
          <line x1={axisX - 7} x2={axisX} y1={y(v)} y2={y(v)} stroke="#111" strokeWidth={2.4} />
          <text transform={`translate(${axisX - 16},${y(v) + 2}) rotate(-90)`} textAnchor="middle"
            fontSize={fs} fontFamily={FONT} fill="#111">{yTickLabels[i]}</text>
        </g>
      ))}
      {p.yTitle && (
        <text transform={`translate(${p.yTitle[0]},${p.yTitle[1]}) rotate(-90)`} textAnchor="middle"
          fontSize={21} fontFamily={FONT} fill="#111">Calibration Volume (L)</text>
      )}
      <text x={p.title[0]} y={p.title[1]} textAnchor="middle" fontSize={fs} fontFamily={FONT} fill="#111">
        {p.name}
      </text>
    </g>
  );
}

function Arrow({ spec, p, shaft, headW, headH }: { spec: number[]; p: PanelSpec; shaft: number; headW: number; headH: number }) {
  const x = d3.scaleLinear().domain(p.xDomain).range(p.xRange);
  const ax = x(spec[0]);
  const ya = p.y(spec[1]);
  const yb = p.y(spec[2]);
  return (
    <g>
      <rect x={ax - shaft / 2} y={ya} width={shaft} height={yb - ya - headH + 1} fill="#000" />
      <path d={`M${ax - headW / 2},${yb - headH}L${ax + headW / 2},${yb - headH}L${ax},${yb}Z`} fill="#000" />
    </g>
  );
}

export default function App() {
  return (
    <svg width={W} height={H} viewBox={`0 0 ${W} ${H}`}
      style={{ position: 'absolute', left: 0, top: 0, display: 'block' }}>
      <defs>
        <linearGradient id="bg" x1="0" y1="0" x2="0" y2="1">
          <stop offset="0" stopColor="#001d5a" />
          <stop offset="1" stopColor="#0036a3" />
        </linearGradient>
      </defs>
      <rect x={0} y={0} width={W} height={H} fill="url(#bg)" />
      <rect x={10} y={9} width={W - 10} height={H - 9} fill="#ffffff" />
      {panels.map((p) => <Panel key={p.name} p={p} />)}
      <Arrow spec={arrowMontevideo} p={panels[2]} shaft={3} headW={17} headH={14} />
      <Arrow spec={arrowSantiago} p={panels[3]} shaft={8} headW={22} headH={23} />
    </svg>
  );
}
